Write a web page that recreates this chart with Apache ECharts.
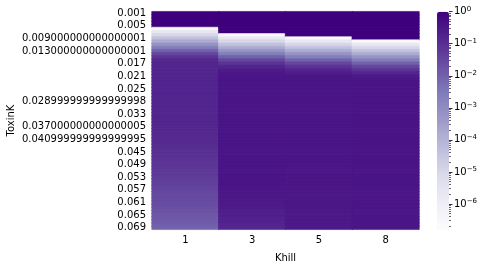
<!DOCTYPE html>
<html>
<head>
<meta charset="utf-8">
<script src="https://cdn.jsdelivr.net/npm/echarts@6/dist/echarts.min.js"></script>
<style>html,body{margin:0;padding:0;background:#fff}#c{width:486px;height:268px}</style>
</head>
<body>
<div id="c"></div>
<script>
// Categories
const khill = ['1', '3', '5', '8'];
const toxinK = [
  '0.001','0.002','0.003','0.004','0.005','0.006','0.007','0.008','0.009000000000000001','0.01',
  '0.011','0.012','0.013000000000000001','0.014','0.015','0.016','0.017','0.018','0.019','0.02',
  '0.021','0.022','0.023','0.024','0.025','0.026','0.027','0.028','0.028999999999999998','0.03',
  '0.031','0.032','0.033','0.034','0.035','0.036','0.037000000000000005','0.038','0.039','0.04',
  '0.040999999999999995','0.042','0.043','0.044','0.045','0.046','0.047','0.048','0.049','0.05',
  '0.051','0.052','0.053','0.054','0.055','0.056','0.057','0.058','0.059','0.06',
  '0.061','0.062','0.063','0.064','0.065','0.066','0.067','0.068','0.069'
];
// Series values (one per ToxinK row), per Khill column
const khill1 = [
  1, 1, 1, 1, 1, 2.5e-7, 2.0e-6, 1.0e-5, 4.0e-5, 1.6e-4,
  6.3e-4, 2.5e-3, 0.010, 0.032, 0.079, 0.13, 0.15, 0.16, 0.16, 0.165,
  0.165, 0.165, 0.165, 0.165, 0.165, 0.165, 0.165, 0.165, 0.16, 0.16,
  0.16, 0.16, 0.155, 0.155, 0.15, 0.15, 0.145, 0.141, 0.135, 0.13,
  0.124, 0.118, 0.112, 0.105, 0.098, 0.092, 0.085, 0.079, 0.073, 0.068,
  0.063, 0.058, 0.053, 0.049, 0.045, 0.041, 0.037, 0.034, 0.031, 0.028,
  0.025, 0.023, 0.020, 0.018, 0.016, 0.0145, 0.013, 0.0115, 0.010
];
const khill3 = [
  1, 1, 1, 1, 1, 1, 1, 2.5e-7, 2.0e-6, 1.0e-5,
  4.0e-5, 1.6e-4, 6.3e-4, 2.5e-3, 0.010, 0.032, 0.079, 0.16, 0.25, 0.32,
  0.34, 0.35, 0.35, 0.35, 0.35, 0.35, 0.35, 0.35, 0.35, 0.35,
  0.35, 0.35, 0.35, 0.35, 0.35, 0.35, 0.35, 0.35, 0.35, 0.35,
  0.35, 0.35, 0.35, 0.35, 0.35, 0.35, 0.35, 0.35, 0.35, 0.35,
  0.35, 0.35, 0.35, 0.35, 0.35, 0.34, 0.33, 0.32, 0.30, 0.29,
  0.27, 0.26, 0.24, 0.22, 0.21, 0.19, 0.18, 0.16, 0.15
];
const khill5 = [
  1, 1, 1, 1, 1, 1, 1, 1, 2.5e-7, 2.0e-6,
  1.0e-5, 4.0e-5, 1.6e-4, 6.3e-4, 2.5e-3, 0.010, 0.032, 0.079, 0.16, 0.25,
  0.32, 0.34, 0.35, 0.35, 0.35, 0.35, 0.35, 0.35, 0.35, 0.35,
  0.35, 0.35, 0.35, 0.35, 0.35, 0.35, 0.35, 0.35, 0.35, 0.35,
  0.35, 0.35, 0.35, 0.35, 0.35, 0.35, 0.35, 0.35, 0.34, 0.34,
  0.34, 0.34, 0.33, 0.33, 0.33, 0.32, 0.32, 0.32, 0.31, 0.31,
  0.31, 0.30, 0.30, 0.30, 0.29, 0.29, 0.29, 0.28, 0.28
];
const khill8 = [
  1, 1, 1, 1, 1, 1, 1, 1, 1, 2.5e-7,
  2.0e-6, 1.0e-5, 4.0e-5, 1.6e-4, 6.3e-4, 2.5e-3, 0.010, 0.032, 0.079, 0.16,
  0.25, 0.32, 0.35, 0.36, 0.36, 0.36, 0.36, 0.36, 0.36, 0.36,
  0.36, 0.36, 0.36, 0.36, 0.36, 0.36, 0.36, 0.36, 0.36, 0.36,
  0.36, 0.36, 0.36, 0.36, 0.36, 0.36, 0.36, 0.36, 0.36, 0.35,
  0.35, 0.35, 0.35, 0.35, 0.35, 0.35, 0.34, 0.34, 0.34, 0.34,
  0.34, 0.33, 0.33, 0.33, 0.33, 0.33, 0.32, 0.32, 0.32
];
const colorbarTicks = ['10^0', '10^-1', '10^-2', '10^-3', '10^-4', '10^-5', '10^-6'];

const columns = [khill1, khill3, khill5, khill8];
const LOG_MIN = -6.79, LOG_MAX = 0;
const purples = ['#fcfbfd','#efedf5','#dadaeb','#bcbddc','#9e9ac8','#807dba','#6a51a3','#54278f','#3f007d'];
const data = [];
columns.forEach((col, xi) => col.forEach((v, yi) => {
  const lv = Math.log10(v);
  const t = Math.max(0, Math.min(1, (lv - LOG_MIN) / (LOG_MAX - LOG_MIN)));
  const c = echarts.color.lerp(t, purples);
  data.push({value: [xi, yi, lv], itemStyle: {borderColor: c, borderWidth: 0.6}});
}));

const majorTicks = colorbarTicks.map(s => Number(s.split('^')[1]));
const minorTicks = [];
for (let e = -7; e < 0; e++) for (let k = 2; k <= 9; k++) {
  const lv = Math.log10(k) + e;
  if (lv >= LOG_MIN && lv <= LOG_MAX) minorTicks.push(lv);
}

const FONT = 'DejaVu Sans';
const GTOP = 11.7, GH = 217.6;

const chart = echarts.init(document.getElementById('c'), null, {renderer: 'canvas'});
chart.setOption({
  animation: false,
  backgroundColor: '#fff',
  textStyle: {fontFamily: FONT},
  grid: [
    {left: 152, top: GTOP, width: 267, height: GH, outerBoundsMode: 'none', containLabel: false},
    {left: 437, top: GTOP, width: 12, height: GH, outerBoundsMode: 'none', containLabel: false}
  ],
  xAxis: [
    {
      type: 'category', gridIndex: 0, data: khill,
      axisLine: {show: false},
      axisTick: {alignWithLabel: true, length: 3.5, lineStyle: {color: '#000', width: 0.8}},
      axisLabel: {color: '#000', fontSize: 10, fontFamily: FONT, margin: 6},
      splitLine: {show: false},
      name: 'Khill', nameLocation: 'middle', nameGap: 24, nameMoveOverlap: false,
      nameTextStyle: {color: '#000', fontSize: 10, fontFamily: FONT}
    },
    {type: 'category', gridIndex: 1, data: ['c'], show: false}
  ],
  yAxis: [
    {
      type: 'category', gridIndex: 0, data: toxinK, inverse: true,
      axisLine: {show: false},
      axisTick: {alignWithLabel: true, interval: 3, length: 3.5, lineStyle: {color: '#000', width: 0.8}},
      axisLabel: {interval: 3, color: '#000', fontSize: 10, fontFamily: FONT, margin: 6},
      splitLine: {show: false},
      name: 'ToxinK', nameLocation: 'middle', nameGap: 136, nameMoveOverlap: false,
      nameTextStyle: {color: '#000', fontSize: 10, fontFamily: FONT}
    },
    {
      type: 'value', gridIndex: 1, min: LOG_MIN, max: LOG_MAX, position: 'right',
      axisLine: {show: false},
      splitLine: {show: false},
      axisTick: {show: true, customValues: majorTicks, length: 3.5, lineStyle: {color: '#000', width: 0.8}},
      axisLabel: {
        show: true, customValues: majorTicks, margin: 5, color: '#000',
        formatter: v => {
          const e = Math.round(v);
          return '{b|10}{s|' + (e === 0 ? '0' : '\u2212' + (-e)) + '}';
        },
        rich: {
          b: {fontSize: 10, fontFamily: FONT, color: '#000'},
          s: {fontSize: 7, fontFamily: FONT, color: '#000', verticalAlign: 'top', padding: [0, 0, 6, 0]}
        }
      }
    },
    {
      type: 'value', gridIndex: 1, min: LOG_MIN, max: LOG_MAX, position: 'right',
      axisLine: {show: false},
      splitLine: {show: false},
      axisTick: {show: true, customValues: minorTicks, length: 2, lineStyle: {color: '#000', width: 0.6}},
      axisLabel: {show: false}
    }
  ],
  visualMap: {
    type: 'continuous', min: LOG_MIN, max: LOG_MAX, seriesIndex: 0,
    calculable: false, show: true, orient: 'vertical',
    left: 437, top: GTOP, itemWidth: 12, itemHeight: GH, padding: 0,
    text: null, showLabel: false, hoverLink: false,
    inRange: {color: purples}
  },
  series: [{
    type: 'heatmap', xAxisIndex: 0, yAxisIndex: 0, data: data,
    progressive: 0, emphasis: {disabled: true}
  }]
});
</script>
</body>
</html>
